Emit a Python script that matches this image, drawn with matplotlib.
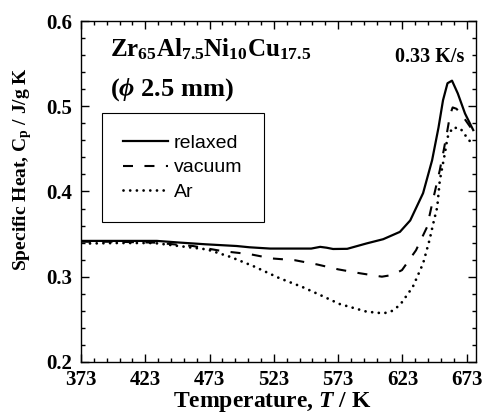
import matplotlib as mpl
import numpy as np

mpl.use('Agg')
from matplotlib import pyplot as plt

plt.rcParams['font.family'] = 'Liberation Serif'
plt.rcParams['font.weight'] = 'bold'
plt.rcParams['mathtext.fontset'] = 'custom'
plt.rcParams['mathtext.rm'] = 'Liberation Serif:bold'
plt.rcParams['mathtext.bf'] = 'Liberation Serif:bold'
plt.rcParams['mathtext.it'] = 'Liberation Serif:italic:bold'

# temperature (K) and specific heat (J/g K)
t_relaxed = [373, 390, 410, 432, 450, 470, 494, 504, 520, 543, 552, 559, 564,
             569, 580, 595, 608, 621, 629, 639, 646, 651, 654.5, 658, 661.5,
             666, 671.6, 678]
cp_relaxed = [0.342, 0.342, 0.342, 0.342, 0.340, 0.338, 0.336, 0.3345, 0.333,
              0.333, 0.333, 0.335, 0.334, 0.3325, 0.3327, 0.339, 0.344, 0.3526,
              0.366, 0.398, 0.4365, 0.475, 0.507, 0.527, 0.530, 0.515, 0.4915,
              0.472]

t_vacuum = [373, 400, 430, 460, 483, 504, 521.5, 539, 556.5, 573, 590, 607,
            615, 622.6, 633.5, 642, 647, 652, 655, 657.6, 660, 662, 665, 670,
            676]
cp_vacuum = [0.341, 0.341, 0.340, 0.336, 0.330, 0.3265, 0.3214, 0.3194, 0.3144,
             0.3086, 0.304, 0.300, 0.302, 0.3077, 0.331, 0.358, 0.392, 0.425,
             0.448, 0.469, 0.490, 0.4986, 0.497, 0.488, 0.475]

t_ar = [380, 400, 430, 450, 471, 489, 507, 527.7, 545, 559, 574, 595, 608, 614,
        621, 631, 639, 644, 647, 650, 652, 656, 658, 662, 668, 673, 677]
cp_ar = [0.339, 0.3395, 0.3395, 0.3358, 0.332, 0.3233, 0.3124, 0.298, 0.288,
         0.2785, 0.268, 0.259, 0.257, 0.259, 0.2667, 0.288, 0.3155, 0.343,
         0.363, 0.3815, 0.413, 0.445, 0.4635, 0.475, 0.474, 0.4635, 0.456]

fig = plt.figure(figsize=(4.88, 4.16), dpi=100)
ax = fig.add_axes([0.166, 0.13, 0.809, 0.8195])

ax.plot(t_relaxed, cp_relaxed, 'k-', lw=1.6, label='relaxed')
ax.plot(t_vacuum, cp_vacuum, color='k', lw=1.5, ls=(0, (4.8, 5.5)),
        label='vacuum')
ax.plot(t_ar, cp_ar, color='k', lw=2.0, ls=(0, (0.01, 2.4)),
        dash_capstyle='round', label='Ar')

ax.set_xlim(373, 680)
ax.set_ylim(0.2, 0.6)
ax.set_xticks(np.arange(373, 680, 50))
ax.set_xticks(np.arange(373, 680, 10), minor=True)
ax.set_yticks([0.2, 0.3, 0.4, 0.5, 0.6])
ax.set_yticks(np.arange(0.2, 0.601, 0.02), minor=True)
ax.set_yticklabels(['0.2', '0.3', '0.4', '0.5', '0.6'])
ax.tick_params(which='both', direction='in', top=True, right=True,
               labelsize=15, width=1)
ax.tick_params(which='major', length=6)
ax.tick_params(which='minor', length=3)
ax.tick_params(axis='x', pad=5.5)
ax.tick_params(axis='y', pad=6.5)
for s in ax.spines.values():
    s.set_linewidth(1)

ax.set_xlabel('Temperature, $\\mathit{T}$ / K', fontsize=17,
              fontweight='bold')
ax.xaxis.set_label_coords(0.485, -0.083)
ax.set_ylabel('Specific Heat, C$_\\mathrm{p}$ / J/g K', fontsize=14,
              fontweight='bold')
ax.yaxis.set_label_coords(-0.118, 0.566)

ax.text(0.073, 0.897,
        '$\\mathrm{Zr_{65}Al_{7.5}Ni_{10}Cu_{17.5}}$', transform=ax.transAxes,
        fontsize=18)
ax.text(0.073, 0.78, '($\\mathit{\\phi}$ 2.5 mm)', transform=ax.transAxes,
        fontsize=19)
ax.text(0.972, 0.88, '0.33 K/s', transform=ax.transAxes, fontsize=14.5,
        ha='right')

leg = ax.legend(loc='upper left', bbox_to_anchor=(0.053, 0.73),
                borderaxespad=0,
                prop={'family': 'Liberation Sans', 'weight': 'normal',
                      'size': 14},
                handlelength=2.3, handletextpad=0.3, labelspacing=0.35,
                borderpad=1.1, fancybox=False, edgecolor='k', framealpha=1)
leg.get_frame().set_linewidth(0.8)

plt.savefig('out.png', dpi=100)
